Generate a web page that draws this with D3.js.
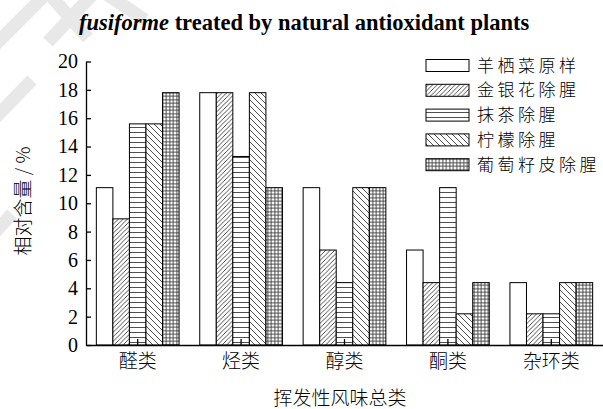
<!DOCTYPE html>
<html><head><meta charset="utf-8">
<script src="https://cdn.jsdelivr.net/npm/d3@7"></script>
<style>body{margin:0;background:#fff}</style></head><body>
<script>
const categories = ["醛类","烃类","醇类","酮类","杂环类"];
const seriesNames = ["羊栖菜原样","金银花除腥","抹茶除腥","柠檬除腥","葡萄籽皮除腥"];
const yuanyang = [11.1, 17.8, 11.1, 6.7, 4.4];
const jinyinhua = [8.9, 17.8, 6.7, 4.4, 2.2];
const mocha = [15.6, 13.3, 4.4, 11.1, 2.2];
const ningmeng = [15.6, 17.8, 11.1, 2.2, 4.4];
const putao = [17.8, 11.1, 11.1, 4.4, 4.4];
const yTicks = [0,2,4,6,8,10,12,14,16,18,20];
const series = [yuanyang, jinyinhua, mocha, ningmeng, putao];
const fills = ["#fff","url(#pDiag1)","url(#pHoriz)","url(#pDiag2)","url(#pGrid)"];

const W=603,H=409;
const svg=d3.select("body").append("svg").attr("width",W).attr("height",H);
const defs=svg.append("defs");
function pat(id,w,h,d){
  const p=defs.append("pattern").attr("id",id).attr("patternUnits","userSpaceOnUse").attr("width",w).attr("height",h);
  p.append("rect").attr("width",w).attr("height",h).attr("fill","#fff");
  p.append("path").attr("d",d).attr("stroke","#222").attr("stroke-width",0.8).attr("fill","none");
}
pat("pDiag1",4.5,4.5,"M0,4.5L4.5,0M-1,1L1,-1M3.5,5.5L5.5,3.5");
pat("pHoriz",10,5,"M0,2.5L10,2.5");
pat("pDiag2",6,6,"M0,0L6,6M-1,5L1,7M5,-1L7,1");
pat("pGrid",3.5,3.5,"M0,1.75L3.5,1.75M1.75,0L1.75,3.5");

// watermark
const wm=svg.append("g").attr("stroke","#e8e8e8").attr("stroke-width",13).attr("fill","none");
["M-5,45L45,-5","M50,-5L88,38","M48,42L92,-5","M108,-5L145,20","M-5,118L32,80","M-5,232L12,214"]
  .forEach(d=>wm.append("path").attr("d",d));

const x0=d3.scaleBand().domain(categories).range([86,603]).paddingInner(0.2).paddingOuter(0.1);
const x1=d3.scaleBand().domain(d3.range(series.length)).range([0,x0.bandwidth()]);
const y=d3.scaleLinear().domain([0,20]).range([345,61.5]);

const g=svg.append("g");
series.forEach((s,si)=>{
  g.selectAll(null).data(s).enter().append("rect")
   .attr("x",(d,i)=>x0(categories[i])+x1(si))
   .attr("y",d=>y(d)).attr("width",x1.bandwidth()).attr("height",d=>y(0)-y(d))
   .attr("fill",fills[si]).attr("stroke","#000").attr("stroke-width",1);
});

const serif="'Liberation Serif','Times New Roman',serif";
const cjk="'Noto Sans CJK SC',sans-serif";

const ya=svg.append("g").attr("transform","translate(86,0)")
  .call(d3.axisLeft(y).tickValues(yTicks).tickSize(-5).tickSizeOuter(0).tickPadding(8));
ya.selectAll("text").attr("font-family",serif).attr("font-size",20).attr("fill","#000");
ya.selectAll("line,path").attr("stroke","#000").attr("stroke-width",1.3);

const xa=svg.append("g").attr("transform","translate(0,345)")
  .call(d3.axisBottom(x0).tickSize(-6).tickSizeOuter(0).tickPadding(10));
xa.selectAll("text").attr("font-family",cjk).attr("font-size",19).attr("fill","#000").attr("font-weight",300);
xa.selectAll("line,path").attr("stroke","#000").attr("stroke-width",1.3);

svg.append("text").attr("x",340).attr("y",405).attr("text-anchor","middle")
  .attr("font-family",cjk).attr("font-size",19).attr("font-weight",300).attr("fill","#000").text("挥发性风味总类");
svg.append("text").attr("transform","translate(30,201) rotate(-90)").attr("text-anchor","middle")
  .attr("font-family",cjk).attr("font-size",19).attr("font-weight",300).attr("fill","#000").text("相对含量 / %");

const t=svg.append("text").attr("x",79).attr("y",30).attr("font-family",serif).attr("font-size",22.5).attr("font-weight","bold");
t.append("tspan").attr("font-style","italic").text("fusiforme");
t.append("tspan").text(" treated by natural antioxidant plants");

const lg=svg.append("g");
seriesNames.forEach((n,i)=>{
  const cy=65.5+i*24.8;
  lg.append("rect").attr("x",426).attr("y",cy-6).attr("width",43).attr("height",12)
    .attr("fill",fills[i]).attr("stroke","#000").attr("stroke-width",1);
  lg.append("text").attr("x",477).attr("y",cy).attr("dy","0.36em").attr("font-family",cjk)
    .attr("font-size",17).attr("letter-spacing",3.5).attr("font-weight",300).attr("fill","#000").text(n);
});
</script></body></html>
